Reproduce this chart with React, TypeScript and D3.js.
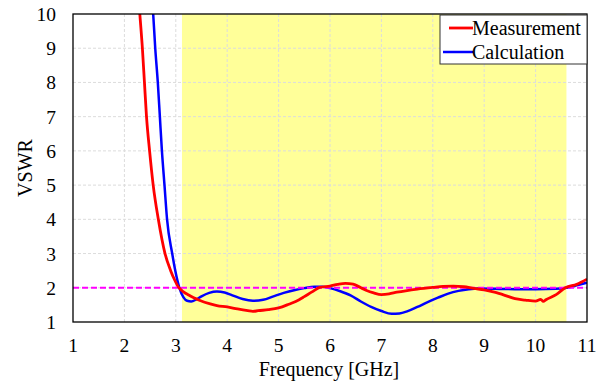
import React from "react";
import * as d3 from "d3";

const measFreq = [2.28, 2.3, 2.35, 2.39, 2.43, 2.49, 2.56, 2.66, 2.79, 2.9, 2.98, 3.05, 3.15, 3.25, 3.35, 3.47, 3.67, 3.8, 4.0, 4.2, 4.4, 4.5, 4.6, 4.8, 5.0, 5.2, 5.4, 5.5, 5.65, 5.8, 6.0, 6.15, 6.3, 6.45, 6.6, 6.7, 6.85, 7.0, 7.15, 7.3, 7.5, 7.7, 8.0, 8.2, 8.4, 8.6, 8.8, 9.0, 9.2, 9.4, 9.6, 9.8, 10.0, 10.1, 10.15, 10.2, 10.4, 10.58, 10.8, 11.0];
const measVswr = [10.4, 10.0, 9.0, 8.0, 7.0, 6.0, 5.0, 4.0, 3.0, 2.5, 2.22, 2.02, 1.88, 1.79, 1.71, 1.63, 1.53, 1.48, 1.44, 1.38, 1.33, 1.31, 1.33, 1.36, 1.41, 1.52, 1.65, 1.74, 1.88, 2.01, 2.05, 2.1, 2.13, 2.11, 2.0, 1.93, 1.85, 1.8, 1.82, 1.87, 1.92, 1.96, 2.01, 2.04, 2.05, 2.03, 1.98, 1.94, 1.87, 1.78, 1.68, 1.64, 1.61, 1.66, 1.6, 1.65, 1.8, 2.0, 2.1, 2.25];

const calcFreq = [2.54, 2.56, 2.6, 2.65, 2.69, 2.73, 2.78, 2.83, 2.93, 2.99, 3.07, 3.15, 3.22, 3.3, 3.4, 3.5, 3.65, 3.8, 3.95, 4.1, 4.3, 4.5, 4.7, 4.9, 5.1, 5.3, 5.5, 5.7, 5.85, 6.0, 6.2, 6.4, 6.6, 6.8, 7.0, 7.2, 7.35, 7.5, 7.7, 7.9, 8.1, 8.3, 8.5, 8.7, 8.9, 9.2, 9.6, 10.0, 10.4, 10.6, 10.8, 11.0];
const calcVswr = [10.4, 10.0, 9.0, 8.0, 7.0, 6.0, 5.0, 4.0, 3.0, 2.5, 2.0, 1.72, 1.62, 1.6, 1.66, 1.75, 1.85, 1.89, 1.86, 1.78, 1.67, 1.62, 1.65, 1.75, 1.85, 1.93, 1.99, 2.03, 2.03, 1.99, 1.9, 1.78, 1.6, 1.44, 1.32, 1.24, 1.25, 1.31, 1.44, 1.58, 1.71, 1.83, 1.91, 1.96, 1.98, 1.97, 1.96, 1.96, 1.97, 2.0, 2.07, 2.15];

const xTicks = [1, 2, 3, 4, 5, 6, 7, 8, 9, 10, 11];
const yTicks = [1, 2, 3, 4, 5, 6, 7, 8, 9, 10];
const bandStart = 3.12;
const bandEnd = 10.6;
const threshold = 2;
const seriesNames = ["Measurement", "Calculation"];

export default function App() {
  const W = 605, H = 384;
  const L = 73, R = 587, T = 14, B = 322;
  const x = d3.scaleLinear().domain([1, 11]).range([L, R]);
  const y = d3.scaleLinear().domain([1, 10]).range([B, T]);
  const txt: React.CSSProperties = { fontFamily: "Liberation Serif", fontSize: 20 };
  const tick: React.CSSProperties = { fontFamily: "Liberation Serif", fontSize: 19.5 };

  const line = d3
    .line<[number, number]>()
    .x((d) => x(d[0]))
    .y((d) => y(d[1]))
    .curve(d3.curveMonotoneX);

  const meas: [number, number][] = measFreq.map((f, i) => [f, measVswr[i]]);
  const calc: [number, number][] = calcFreq.map((f, i) => [f, calcVswr[i]]);

  return (
    <svg width={W} height={H} style={{ position: "absolute", left: 0, top: 0, background: "#fff" }}>
      <defs>
        <clipPath id="plotClip">
          <rect x={L} y={T} width={R - L} height={B - T} />
        </clipPath>
      </defs>
      <rect x={x(bandStart)} y={T} width={x(bandEnd) - x(bandStart)} height={B - T} fill="#ffff99" />
      {xTicks.slice(1, -1).map((t) => (
        <line key={"gx" + t} x1={x(t)} x2={x(t)} y1={T} y2={B} stroke="#dcdcdc" strokeWidth={1} strokeDasharray="3,2" />
      ))}
      {yTicks.slice(1, -1).map((t) => (
        <line key={"gy" + t} x1={L} x2={R} y1={y(t)} y2={y(t)} stroke="#dcdcdc" strokeWidth={1} strokeDasharray="3,2" />
      ))}
      <g clipPath="url(#plotClip)">
        <path d={line(calc) || ""} fill="none" stroke="#0000ff" strokeWidth={2.5} />
        <line x1={L} x2={R} y1={y(threshold)} y2={y(threshold)} stroke="#ff00ff" strokeWidth={2} strokeDasharray="6,3" />
        <path d={line(meas) || ""} fill="none" stroke="#ff0000" strokeWidth={2.8} />
      </g>
      <rect x={L} y={T} width={R - L} height={B - T} fill="none" stroke="#000" strokeWidth={1.3} />
      {xTicks.map((t) => (
        <text key={"xt" + t} x={x(t)} y={352} textAnchor="middle" style={tick} fill="#000">
          {t}
        </text>
      ))}
      {yTicks.map((t) => (
        <text key={"yt" + t} x={56} y={y(t) + 7} textAnchor="end" style={tick} fill="#000">
          {t}
        </text>
      ))}
      <text x={329} y={375.5} textAnchor="middle" style={txt} fill="#000">
        Frequency [GHz]
      </text>
      <text transform={`translate(32,${(T + B) / 2}) rotate(-90)`} textAnchor="middle" style={txt} fill="#000">
        VSWR
      </text>
      <g>
        <rect x={440} y={15} width={147} height={49} fill="#fff" stroke="#333" strokeWidth={1} />
        <line x1={449} x2={473} y1={28} y2={28} stroke="#ff0000" strokeWidth={2.8} />
        <text x={472} y={35} style={txt} fill="#000">{seriesNames[0]}</text>
        <line x1={443} x2={473} y1={52} y2={52} stroke="#0000ff" strokeWidth={2.5} />
        <text x={472} y={59} style={txt} fill="#000">{seriesNames[1]}</text>
      </g>
    </svg>
  );
}
